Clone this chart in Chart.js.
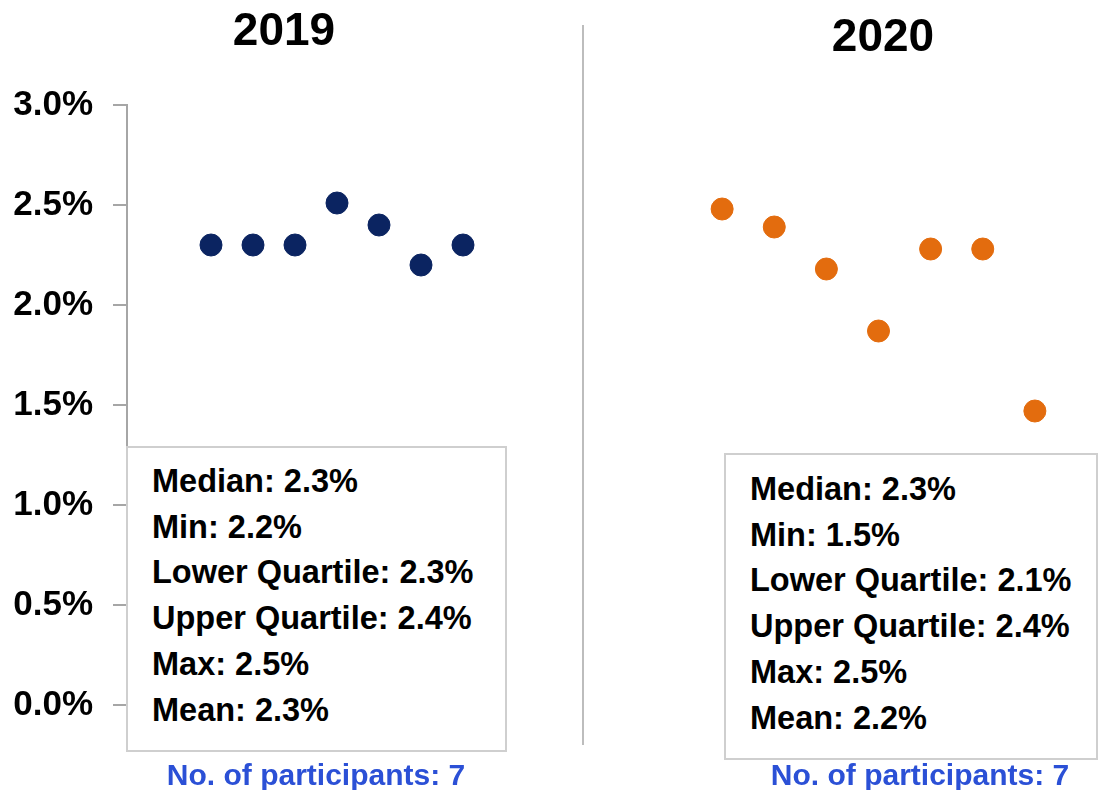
<!DOCTYPE html>
<html>
<head>
<meta charset="utf-8">
<script src="https://cdn.jsdelivr.net/npm/chart.js@4"></script>
<style>
  body { margin: 0; background: #fff; }
  #wrap { position: relative; width: 1099px; height: 790px; font-family: "Liberation Sans", Arial, sans-serif; font-weight: bold; }
  canvas { position: absolute; top: 0; }
  .title { position: absolute; font-size: 46px; line-height: 46px; color: #000; transform: translateX(-50%); }
  .stats { position: absolute; box-sizing: border-box; border: 2px solid #cfcfcf; background: #fff; font-size: 32.5px; line-height: 45.7px; color: #000; white-space: nowrap; }
  .count { position: absolute; font-size: 30px; line-height: 30px; color: #2b50d6; transform: translateX(-50%); white-space: nowrap; }
  #divider { position: absolute; left: 582px; top: 25px; width: 2px; height: 720px; background: #bdbdbd; }
</style>
</head>
<body>
<div id="wrap">
  <canvas id="chart2019" width="583" height="790" style="left:0"></canvas>
  <canvas id="chart2020" width="516" height="790" style="left:583px"></canvas>
  <div id="divider"></div>
  <div class="title" style="left:284px; top:6px">2019</div>
  <div class="title" style="left:883px; top:12px">2020</div>
  <div class="stats" id="box2019" style="left:126px; top:446px; width:381px; height:306px; padding:11px 0 0 24px"></div>
  <div class="stats" id="box2020" style="left:724px; top:453px; width:374px; height:307px; padding:12px 0 0 24px"></div>
  <div class="count" id="count2019" style="left:316px; top:760px"></div>
  <div class="count" id="count2020" style="left:920px; top:760px"></div>
</div>
<script>
const participants = [1, 2, 3, 4, 5, 6, 7];
const rate2019 = [2.3, 2.3, 2.3, 2.51, 2.4, 2.2, 2.3];
const rate2020 = [2.48, 2.39, 2.18, 1.87, 2.28, 2.28, 1.47];

const statLabels = ['Median', 'Min', 'Lower Quartile', 'Upper Quartile', 'Max', 'Mean'];
const stats2019 = [2.3, 2.2, 2.3, 2.4, 2.5, 2.3];
const stats2020 = [2.3, 1.5, 2.1, 2.4, 2.5, 2.2];

const yTicks = [0, 0.5, 1, 1.5, 2, 2.5, 3];

const fontFamily = '"Liberation Sans", Arial, sans-serif';

function points(values) {
    return participants.map((p, i) => ({ x: p, y: values[i] }));
}

function statsHtml(values) {
    return statLabels.map((l, i) => l + ': ' + values[i].toFixed(1) + '%').join('<br>');
}

document.getElementById('box2019').innerHTML = statsHtml(stats2019);
document.getElementById('box2020').innerHTML = statsHtml(stats2020);
document.getElementById('count2019').textContent = 'No. of participants: ' + rate2019.length;
document.getElementById('count2020').textContent = 'No. of participants: ' + rate2020.length;

function makeChart(id, values, color, showAxis, xMin, xMax, padLeft, padRight) {
    const ctx = document.getElementById(id).getContext('2d');
    return new Chart(ctx, {
        type: 'scatter',
        data: {
            datasets: [{
                data: points(values),
                backgroundColor: color,
                borderColor: color,
                pointRadius: 11,
                pointHoverRadius: 11,
                clip: false
            }]
        },
        options: {
            responsive: false,
            animation: false,
            layout: {
                padding: { top: 105, bottom: 85, left: padLeft, right: padRight }
            },
            scales: {
                x: {
                    type: 'linear',
                    display: false,
                    min: xMin,
                    max: xMax
                },
                y: {
                    display: showAxis,
                    min: 0,
                    max: 3,
                    // only the 2019 panel carries the axis, fixed at 127px wide
                    afterFit: (scale) => { if (showAxis) scale.width = 127; },
                    afterBuildTicks: (scale) => { scale.ticks = yTicks.map(v => ({ value: v })); },
                    grid: {
                        drawOnChartArea: false,
                        drawTicks: true,
                        tickLength: 14,
                        color: '#a6a6a6',
                        lineWidth: 2
                    },
                    border: { display: true, color: '#a6a6a6', width: 2 },
                    ticks: {
                        padding: 20,
                        color: '#000',
                        font: { family: fontFamily, size: 35, weight: 'bold' },
                        callback: (v) => Number(v).toFixed(1) + '%'
                    }
                }
            },
            plugins: {
                legend: { display: false },
                tooltip: { enabled: false }
            }
        }
    });
}

makeChart('chart2019', rate2019, '#0b2461', true, -1, 9, 0, 36);
makeChart('chart2020', rate2020, '#e36c0e', false, 0, 8, 87, 11);
</script>
</body>
</html>
